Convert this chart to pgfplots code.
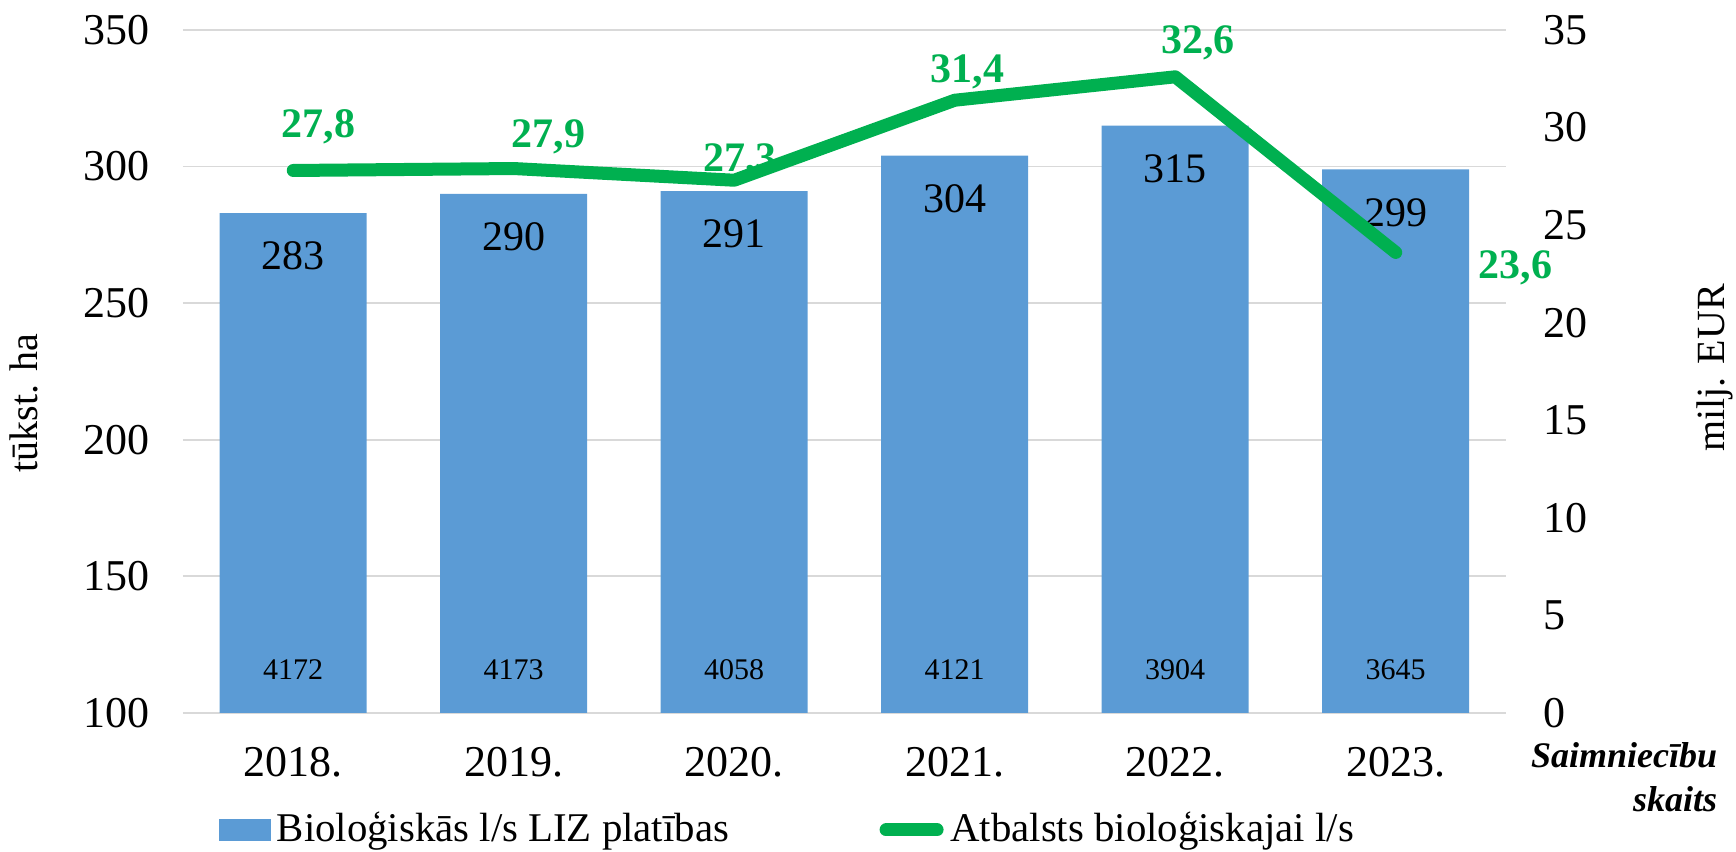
\documentclass[border=0pt]{standalone}
\usepackage{fontspec}
\setmainfont{Liberation Serif}
\usepackage{pgfplots}
\pgfplotsset{compat=1.18}
\definecolor{barblue}{HTML}{5B9BD5}
\definecolor{lgreen}{HTML}{00B050}
\definecolor{gridgray}{HTML}{D9D9D9}
\begin{document}
\begin{tikzpicture}
\begin{axis}[
  at={(0pt,0pt)}, anchor=south west,
  width=330.75pt, height=170.75pt, scale only axis,
  xmin=-0.5, xmax=5.5, ymin=100, ymax=350,
  xtick={0,...,5}, xticklabels={2018.,2019.,2020.,2021.,2022.,2023.},
  ytick={100,150,...,350},
  ymajorgrids, grid style={gridgray, line width=0.45pt},
  axis x line*=bottom, axis y line*=left,
  axis line style={draw=none}, major tick length=0pt,
  tick label style={font=\fontsize{11}{13}\selectfont},
  /pgf/number format/assume math mode=true,
  yticklabel style={xshift=-4.8pt},
  xticklabel style={yshift=-5.1pt},
  ybar, bar width=36.75pt,
  legend style={draw=none, fill=none, inner sep=0pt, at={(0.02646,-0.1713)}, anchor=west,
    /tikz/column sep=0pt, font=\fontsize{10.2}{12}\selectfont, nodes={inner sep=1.5pt}},
  legend columns=2, legend cell align=left,
]
\addplot[fill=barblue, draw=none,
  nodes near coords,
  every node near coord/.style={anchor=center, yshift=-10.75pt, font=\fontsize{10.5}{12}\selectfont, text=black},
  legend image code/.code={\fill[barblue] (0pt,-2.75pt) rectangle (13pt,2.75pt);}]
  coordinates {(0,283) (1,290) (2,291) (3,304) (4,315) (5,299)};
\addlegendentry{\makebox[149pt][l]{Bioloģiskās l/s LIZ platības}}
\addlegendimage{legend image code/.code={\draw[lgreen, line width=3.25pt, line cap=round] (1.625pt,0pt) -- (14.375pt,0pt); \path (0pt,0pt) (16pt,0pt);}}
\addlegendentry{Atbalsts bioloģiskajai l/s}
\node[font=\fontsize{7.5}{9}\selectfont] at (axis cs:0,100) [yshift=10.75pt] {4172};
\node[font=\fontsize{7.5}{9}\selectfont] at (axis cs:1,100) [yshift=10.75pt] {4173};
\node[font=\fontsize{7.5}{9}\selectfont] at (axis cs:2,100) [yshift=10.75pt] {4058};
\node[font=\fontsize{7.5}{9}\selectfont] at (axis cs:3,100) [yshift=10.75pt] {4121};
\node[font=\fontsize{7.5}{9}\selectfont] at (axis cs:4,100) [yshift=10.75pt] {3904};
\node[font=\fontsize{7.5}{9}\selectfont] at (axis cs:5,100) [yshift=10.75pt] {3645};
\end{axis}
\begin{axis}[
  at={(0pt,0pt)}, anchor=south west,
  width=330.75pt, height=170.75pt, scale only axis,
  xmin=-0.5, xmax=5.5, ymin=0, ymax=35,
  ytick={0,5,...,35},
  axis y line*=right, axis x line=none,
  axis line style={draw=none}, major tick length=0pt,
  tick label style={font=\fontsize{11}{13}\selectfont},
  /pgf/number format/assume math mode=true,
  yticklabel style={xshift=5.8pt},
  clip=false,
]
\addplot[lgreen, line width=3.25pt, line join=round, line cap=round]
  coordinates {(0,27.8) (1,27.9) (2,27.3) (3,31.4) (4,32.6) (5,23.6)};
\tikzset{glab/.style={text=lgreen, font=\bfseries\fontsize{10.5}{12}\selectfont, anchor=center, text height=7.1pt, text depth=0pt, inner sep=0pt}}
\node[glab] at (axis cs:0,27.8) [xshift=6.25pt, yshift=11.75pt] {27,8};
\node[glab] at (axis cs:1,27.9) [xshift=8.75pt, yshift=8.75pt] {27,9};
\node[glab] at (axis cs:2,27.3) [xshift=1.5pt, yshift=5.75pt] {27,3};
\node[glab] at (axis cs:3,31.4) [xshift=3.25pt, yshift=8pt] {31,4};
\node[glab] at (axis cs:4,32.6) [xshift=5.75pt, yshift=9.5pt] {32,6};
\node[glab] at (axis cs:5,23.6) [xshift=30pt, yshift=-3pt] {23,6};
\end{axis}
\node[rotate=90, anchor=base, font=\fontsize{10}{12}\selectfont] at (-36.25pt,77.5pt) {tūkst. ha};
\node[rotate=90, anchor=base, font=\fontsize{10}{12}\selectfont] at (385.25pt,86.25pt) {milj. EUR};
\node[anchor=base east, font=\bfseries\itshape\fontsize{9}{10}\selectfont, inner sep=0pt] at (383.75pt,-13.75pt) {Saimniecību};
\node[anchor=base east, font=\bfseries\itshape\fontsize{9}{10}\selectfont, inner sep=0pt] at (383.75pt,-24.75pt) {skaits};
\pgfresetboundingbox
\useasboundingbox (-45.75pt,-34.75pt) rectangle (388.25pt,178.25pt);
\end{tikzpicture}
\end{document}
